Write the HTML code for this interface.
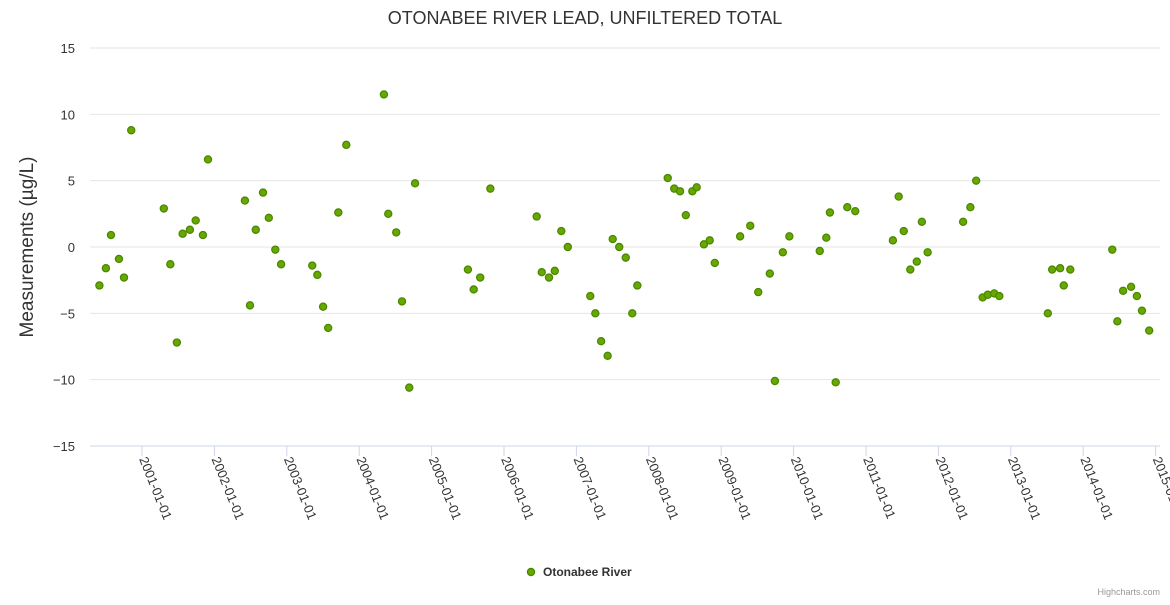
<!DOCTYPE html>
<html><head><meta charset="utf-8"><style>
body{margin:0;background:#fff;font-family:"Liberation Sans",sans-serif}
svg text{font-family:"Liberation Sans",sans-serif}
</style></head><body>
<svg id="chart" width="1170" height="600" xmlns="http://www.w3.org/2000/svg">
<rect width="1170" height="600" fill="#fff"/>
<text x="585" y="24" text-anchor="middle" font-size="18" fill="#333">OTONABEE RIVER LEAD, UNFILTERED TOTAL</text>
<text transform="translate(33,247) rotate(-90)" text-anchor="middle" font-size="19" fill="#333">Measurements (µg/L)</text>
<g id="grid"></g><g id="xaxis"></g><g id="points"></g>
<g>
<circle cx="531" cy="572" r="3.6" fill="#66a800" stroke="#4a8500" stroke-width="1.2"/>
<text x="543" y="576" font-size="12" font-weight="bold" fill="#333">Otonabee River</text>
</g>
<text x="1160" y="595" text-anchor="end" font-size="9" fill="#999">Highcharts.com</text>
</svg>
<script>
const yTicks=[15,10,5,0,-5,-10,-15];
const xTickYears=[2001,2002,2003,2004,2005,2006,2007,2008,2009,2010,2011,2012,2013,2014,2015];
const dates=[2000.37,2000.46,2000.53,2000.64,2000.71,2000.81,2001.26,2001.35,2001.44,2001.52,2001.62,2001.70,2001.80,2001.87,2002.38,2002.45,2002.53,2002.63,2002.71,2002.80,2002.88,2003.31,2003.38,2003.46,2003.53,2003.67,2003.78,2004.30,2004.36,2004.47,2004.55,2004.65,2004.73,2005.46,2005.54,2005.63,2005.77,2006.41,2006.48,2006.58,2006.66,2006.75,2006.84,2007.15,2007.22,2007.30,2007.39,2007.46,2007.55,2007.64,2007.73,2007.80,2008.22,2008.31,2008.39,2008.47,2008.56,2008.62,2008.72,2008.80,2008.87,2009.22,2009.36,2009.47,2009.63,2009.70,2009.81,2009.90,2010.32,2010.41,2010.46,2010.54,2010.70,2010.81,2011.33,2011.41,2011.48,2011.57,2011.66,2011.73,2011.81,2012.30,2012.40,2012.48,2012.57,2012.64,2012.73,2012.80,2013.47,2013.53,2013.64,2013.69,2013.78,2014.36,2014.43,2014.51,2014.62,2014.70,2014.77,2014.87];
const values=[-2.9,-1.6,0.9,-0.9,-2.3,8.8,2.9,-1.3,-7.2,1.0,1.3,2.0,0.9,6.6,3.5,-4.4,1.3,4.1,2.2,-0.2,-1.3,-1.4,-2.1,-4.5,-6.1,2.6,7.7,11.5,2.5,1.1,-4.1,-10.6,4.8,-1.7,-3.2,-2.3,4.4,2.3,-1.9,-2.3,-1.8,1.2,0.0,-3.7,-5.0,-7.1,-8.2,0.6,0.0,-0.8,-5.0,-2.9,5.2,4.4,4.2,2.4,4.2,4.5,0.2,0.5,-1.2,0.8,1.6,-3.4,-2.0,-10.1,-0.4,0.8,-0.3,0.7,2.6,-10.2,3.0,2.7,0.5,3.8,1.2,-1.7,-1.1,1.9,-0.4,1.9,3.0,5.0,-3.8,-3.6,-3.5,-3.7,-5.0,-1.7,-1.6,-2.9,-1.7,-0.2,-5.6,-3.3,-3.0,-3.7,-4.8,-6.3];
const NS="http://www.w3.org/2000/svg";
const X0=90,X1=1160,Y0=48,Y1=446;
function xs(yr){return 145+(yr-2001)*72.4;}
function ys(v){return Y0+(15-v)*(Y1-Y0)/30;}
function mk(t,a,p){const e=document.createElementNS(NS,t);for(const k in a)e.setAttribute(k,a[k]);p.appendChild(e);return e;}
const g=document.getElementById('grid');
yTicks.forEach(v=>{
 const l=mk('line',{x1:X0,x2:X1,y1:ys(v),y2:ys(v),stroke:v===-15?'#ccd6eb':'#e6e6e6','stroke-width':1},g);
 
 
 const t=mk('text',{x:75,y:ys(v)+5,'text-anchor':'end','font-size':13,fill:'#333'},g);
 t.textContent=(v<0?'\u2212'+(-v):v);
 
 
});
const xa=document.getElementById('xaxis');
xTickYears.forEach(yr=>{
 const x=xs(yr)-3;
 const l=mk('line',{x1:x,x2:x,y1:Y1,y2:Y1+10,stroke:'#ccd6eb'},xa);
 
 
 const t=mk('text',{transform:`translate(${x-3},${Y1+13}) rotate(68)`,'font-size':13,fill:'#333'},xa);
 t.textContent=yr+'-01-01';
 
 
});
const pg=document.getElementById('points');
dates.forEach((d,i)=>{
 const c=mk('circle',{cx:xs(d),cy:ys(values[i]),r:3.6,fill:'#66a800',stroke:'#4a8500','stroke-width':1.2},pg);
 
 
});
</script>
</body></html>
